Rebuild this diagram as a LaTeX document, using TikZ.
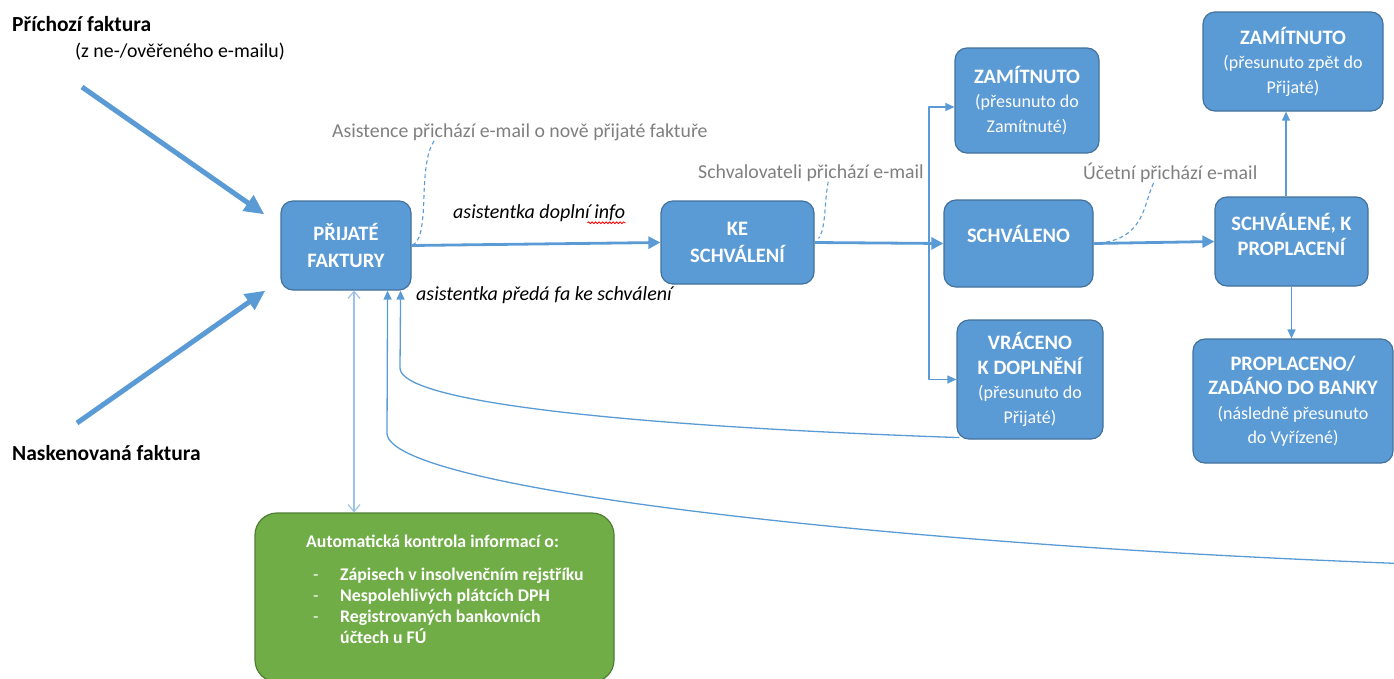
\documentclass[tikz,border=0pt]{standalone}
\usepackage{fontspec}
\setmainfont{Carlito}
\usetikzlibrary{arrows.meta,calc,decorations.pathmorphing}

\definecolor{modra}{HTML}{5B9BD5}
\definecolor{modraokraj}{HTML}{41719C}
\definecolor{svetlemodra}{HTML}{9DC3E6}
\definecolor{zelena}{HTML}{70AD47}
\definecolor{zelenaokraj}{HTML}{507E32}
\definecolor{seda}{HTML}{7F7F7F}

\newcommand\podtitul{\mdseries\fontsize{18}{24.5}\selectfont}

\tikzset{
  krabice/.style={rectangle, rounded corners=12pt, fill=modra, draw=modraokraj, line width=1.2pt,
    text=white, align=center, inner sep=0pt, font=\bfseries\fontsize{20.5}{24.5}\selectfont},
  zelenabox/.style={rectangle, rounded corners=22pt, fill=zelena, draw=zelenaokraj, line width=1.2pt},
  popisek/.style={anchor=west, inner sep=0pt, font=\bfseries\fontsize{21.5}{24}\selectfont},
  poznamka/.style={anchor=west, inner sep=0pt, text=seda, font=\fontsize{19.8}{24}\selectfont},
  akce/.style={anchor=west, inner sep=0pt, font=\itshape\fontsize{20}{24}\selectfont},
  tlusta/.style={draw=modra, line width=5pt, -{Triangle[length=20pt,width=18pt]}},
  stredni/.style={draw=modra, line width=2.8pt, -{Triangle[length=12pt,width=12pt]}},
  tenka/.style={draw=modra, line width=1.3pt, -{Triangle[length=9pt,width=8pt]}},
  svetla/.style={draw=svetlemodra, line width=1.2pt},
  vyzva/.style={draw=modra, line width=1.1pt, dash pattern=on 4pt off 3pt},
}

\begin{document}
\begin{tikzpicture}[x=1pt, y=-1pt, line join=round]

  %% ════ stavy faktury ════
  \node[krabice, minimum width=130pt, minimum height=89pt] (prijate) at (346,245.5) {PŘIJATÉ\\[2.5pt]FAKTURY};
  \node[krabice, minimum width=153pt, minimum height=83pt] (kesch) at (737.5,242.5) {KE\\[2.5pt]SCHVÁLENÍ};
  \node[krabice, minimum width=144pt, minimum height=105pt] (zam1) at (1027,100.5) {ZAMÍTNUTO\\{\podtitul (přesunuto do}\\{\podtitul Zamítnuté)}};
  \node[krabice, minimum width=149pt, minimum height=87pt, text depth=19pt] (schvaleno) at (1018.5,243.5) {SCHVÁLENO};
  \node[krabice, minimum width=146pt, minimum height=119pt] (vracen) at (1030,379.5) {VRÁCENO\\K DOPLNĚNÍ\\{\podtitul (přesunuto do}\\{\podtitul Přijaté)}};
  \node[krabice, minimum width=153pt, minimum height=89pt, text depth=14pt] (schvk) at (1291.5,241.5) {SCHVÁLENÉ, K\\PROPLACENÍ};
  \node[krabice, minimum width=180pt, minimum height=99pt] (zam2) at (1293,61.5) {ZAMÍTNUTO\\{\podtitul (přesunuto zpět do}\\{\podtitul Přijaté)}};
  \node[krabice, minimum width=200pt, minimum height=124pt] (procl) at (1293,401) {PROPLACENO/\\ZADÁNO DO BANKY\\{\podtitul (následně přesunuto}\\{\podtitul do Vyřízené)}};

  %% ════ automaticka kontrola ════
  \node[zelenabox, minimum width=359pt, minimum height=169pt] (kontrola) at (434.5,597.5) {};
  \node[anchor=north west, inner sep=0pt, text=white, align=left, font=\bfseries\fontsize{17.8}{21}\selectfont] (kontrolatext) at (306,535) {%
    Automatická kontrola informací o:\\[12pt]
    \makebox[34pt][l]{\hspace{7pt}\mdseries -}Zápisech v insolvenčním rejstříku\\
    \makebox[34pt][l]{\hspace{7pt}\mdseries -}Nespolehlivých plátcích DPH\\
    \makebox[34pt][l]{\hspace{7pt}\mdseries -}Registrovaných bankovních\\
    \hspace*{34pt}účtech u FÚ};

  %% ════ popisky ════
  \node[popisek] (nadpisprichozi) at (12,24) {Příchozí faktura};
  \node[anchor=west, inner sep=0pt, font=\fontsize{19.8}{24}\selectfont] (zdroj) at (75,52) {(z ne-/ověřeného e-mailu)};
  \node[popisek] (nadpissken) at (12,453) {Naskenovaná faktura};
  \node[poznamka] (asistence) at (332,132) {Asistence přichází e-mail o nově přijaté faktuře};
  \node[poznamka] (schvalovatel) at (698,173) {Schvalovateli přichází e-mail};
  \node[poznamka] (ucetni) at (1083,173) {Účetní přichází e-mail};
  \node[akce] (doplni) at (453,213) {asistentka doplní info};
  \node[akce] (preda) at (416,295) {asistentka předá fa ke schválení};
  % podtrzeni z kontroly pravopisu
  \draw[red, line width=0.8pt, decorate, decoration={snake, amplitude=1pt, segment length=3.5pt}]
    ([shift={(-38pt,-1pt)}]doplni.south east) -- ([yshift=-1pt]doplni.south east);

  %% ════ vstupy ════
  \coordinate (zacatek1) at (82,87);
  \coordinate (zacatek2) at (77,423);
  \draw[tlusta] (zacatek1) -- ([shift={(-16pt,-14pt)}]prijate.north west);
  \draw[tlusta] (zacatek2) -- ([xshift=-15pt]prijate.south west);

  %% ════ hlavni tok ════
  \coordinate (vetev) at (929,243);
  \draw[stredni] (prijate.east) -- (kesch.west);
  \draw[stredni] (kesch.east) -- (schvaleno.west);
  \draw[tenka] (vetev) |- ([yshift=-6.5pt]zam1.west);
  \draw[tenka] (vetev) |- (vracen.west);
  \draw[stredni] (schvaleno.east) -- (schvk.west);
  \draw[tenka] ([xshift=-5.5pt]schvk.north) -- ([xshift=-5.5pt]schvk.north |- zam2.south);
  \draw[tenka] (schvk.south) -- (schvk.south |- procl.north);

  %% ════ navraty ════
  \draw[tenka] ([shift={(3pt,2pt)}]vracen.south west) .. controls (600,425) and (400,400) .. (400,368)
    -- ([xshift=-11pt]prijate.south east);
  \coordinate (mimo) at (1400,563.5);
  \draw[tenka] (mimo) .. controls (900,545) and (387,490) .. (387,433) -- ([xshift=-24pt]prijate.south east);
  \draw[svetla, {Straight Barb[length=7pt,width=12pt]}-{Straight Barb[length=7pt,width=12pt]}]
    ([xshift=8pt]prijate.south) -- ([xshift=8pt]prijate.south |- kontrola.north);

  %% ════ e-mailove vyzvy ════
  \draw[vyzva] ($(asistence.south west)!0.272!(asistence.south east)$)
    .. controls (428,150) and (425,165) .. (424,195) .. controls (423,230) and (420,242) .. (prijate.east);
  \draw[vyzva] ($(schvalovatel.south west)!0.576!(schvalovatel.south east)$)
    .. controls (824,205) and (826,228) .. ([shift={(4pt,4pt)}]kesch.east);
  \draw[vyzva] ($(ucetni.south west)!0.404!(ucetni.south east)$)
    .. controls (1143,205) and (1145,240) .. ([xshift=2pt]schvaleno.east);

  % pevne platno
  \pgfresetboundingbox
  \path[use as bounding box] (0,0) rectangle (1394,678);
\end{tikzpicture}
\end{document}
